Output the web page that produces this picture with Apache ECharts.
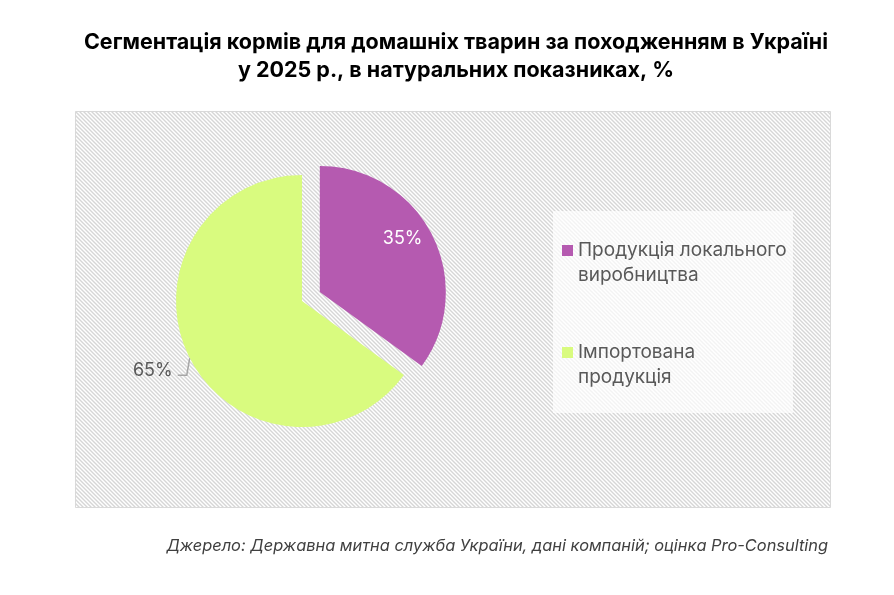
<!DOCTYPE html>
<html>
<head>
<meta charset="utf-8">
<script src="https://cdn.jsdelivr.net/npm/echarts@6/dist/echarts.min.js"></script>
<style>
    html, body { margin: 0; padding: 0; background: #fff; }
    #feed_origin { width: 894px; height: 595px; }
</style>
</head>
<body>
<div id="feed_origin"></div>
<script>

// Chart data
// ------------------------------

var categories = ['Продукція локального\nвиробництва', 'Імпортована\nпродукція'];
var shares = [35, 65];
var sliceColors = ['#B55AB0', '#D9FB7F'];


// Setup module
// ------------------------------

var EchartsFeedOriginPie = function() {

    // Hatched background tile
    var _hatch = function(lineColor) {
        var tile = document.createElement('canvas');
        tile.width = 4;
        tile.height = 4;
        var ctx = tile.getContext('2d');
        ctx.strokeStyle = lineColor;
        ctx.lineWidth = 1.4;
        ctx.beginPath();
        ctx.moveTo(-4, 0); ctx.lineTo(4, 8);
        ctx.moveTo(0, 0); ctx.lineTo(4, 4);
        ctx.moveTo(0, -4); ctx.lineTo(8, 4);
        ctx.moveTo(-4, -4); ctx.lineTo(4, 4);
        ctx.stroke();
        return tile;
    };

    var _feedOriginPie = function() {
        if (typeof echarts == 'undefined') {
            console.warn('Warning - echarts.min.js is not loaded.');
            return;
        }

        var pie_element = document.getElementById('feed_origin');
        if (!pie_element) return;

        var pie_chart = echarts.init(pie_element, null, { renderer: 'canvas' });

        pie_chart.setOption({

            animation: false,

            textStyle: {
                fontFamily: 'Inter, Roboto, sans-serif'
            },

            // Title and source note
            title: [{
                text: 'Сегментація кормів для домашніх тварин за походженням в Україні\nу 2025 р., в натуральних показниках, %',
                left: 451,
                top: 24,
                textAlign: 'center',
                textStyle: {
                    color: '#000',
                    fontSize: 21.5,
                    fontWeight: 'bold',
                    lineHeight: 28
                }
            }, {
                text: 'Джерело: Державна митна служба України, дані компаній; оцінка Pro-Consulting',
                right: 61,
                top: 533,
                textStyle: {
                    color: '#404040',
                    fontSize: 16.4,
                    fontStyle: 'italic',
                    fontWeight: 'normal'
                }
            }],

            // Plot area and legend panel
            graphic: [{
                type: 'rect',
                z: -10,
                shape: { x: 75.5, y: 111.5, width: 755, height: 396 },
                style: {
                    fill: { image: _hatch('#d6d6d6'), repeat: 'repeat' },
                    stroke: '#d9d9d9',
                    lineWidth: 1
                }
            }, {
                type: 'rect',
                z: -9,
                shape: { x: 553, y: 211, width: 240, height: 202 },
                style: {
                    fill: 'rgba(255,255,255,0.7)'
                }
            }],

            // Legend
            legend: {
                orient: 'vertical',
                left: 562,
                top: 213,
                padding: 0,
                itemGap: 27,
                itemWidth: 11,
                itemHeight: 11,
                icon: 'rect',
                data: categories,
                // blank first line keeps the marker beside the first text line
                formatter: function(name) {
                    return ' \n' + name;
                },
                textStyle: {
                    color: '#595959',
                    fontSize: 19,
                    lineHeight: 25
                }
            },

            // Pie series
            series: [{
                type: 'pie',
                center: [302, 301],
                radius: 126,
                startAngle: 90,
                clockwise: true,
                selectedMode: 'single',
                selectedOffset: 20,
                label: {
                    formatter: '{d}%',
                    fontSize: 18
                },
                labelLine: {
                    length: 5,
                    length2: 9,
                    lineStyle: { color: '#a6a6a6', width: 1.5 }
                },
                labelLayout: function(params) {
                    if (params.dataIndex === 0) {
                        return { dx: 24, dy: -23 };
                    }
                    // short elbow leader: down from the slice edge, then left
                    var pts = params.labelLinePoints;
                    if (!pts) return {};
                    var p0 = pts[0];
                    var p1 = [p0[0] - 3, p0[1] + 17];
                    var p2 = [p1[0] - 9, p1[1]];
                    return {
                        x: p2[0] - 5,
                        y: p2[1] - 5,
                        align: 'right',
                        verticalAlign: 'middle',
                        labelLinePoints: [p0, p1, p2]
                    };
                },
                emphasis: { disabled: true },
                data: [{
                    name: categories[0],
                    value: shares[0],
                    selected: true,
                    itemStyle: { color: sliceColors[0] },
                    label: {
                        position: 'inside',
                        color: '#fff'
                    }
                }, {
                    name: categories[1],
                    value: shares[1],
                    itemStyle: { color: sliceColors[1] },
                    label: {
                        position: 'outside',
                        color: '#595959'
                    }
                }]
            }]
        });
    };

    return {
        init: function() {
            _feedOriginPie();
        }
    }
}();


document.addEventListener('DOMContentLoaded', function() {
    EchartsFeedOriginPie.init();
});
</script>
</body>
</html>
